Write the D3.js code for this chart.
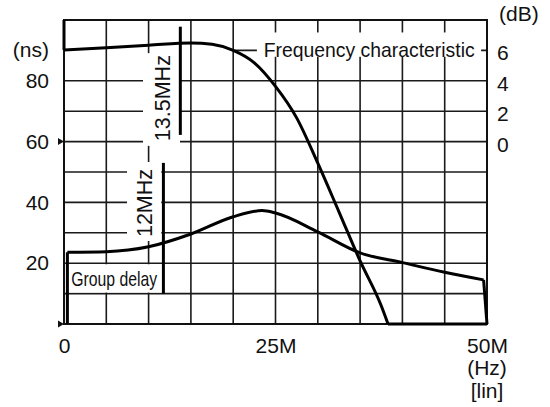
<!DOCTYPE html>
<html>
<head>
<meta charset="utf-8">
<script src="https://cdn.jsdelivr.net/npm/d3@7"></script>
<style>
  html, body { margin: 0; padding: 0; background: #fff; }
  svg { display: block; }
  text { font-family: "Liberation Sans", Arial, Helvetica, sans-serif; fill: #111; }
</style>
</head>
<body>
<svg id="chart" width="550" height="407"></svg>
<script>
// ---------- data ----------
const freqTicks = [0, 25, 50];
const freqTickLabels = ["0", "25M", "50M"];
const nsTicks = [20, 40, 60, 80];
const dbTicks = [0, 2, 4, 6];
const gridFreq = [0, 5, 10, 15, 20, 25, 30, 35, 40, 45, 50];
const gridNs = [0, 10, 20, 30, 40, 50, 60, 70, 80, 90, 100];

// Frequency characteristic (dB)
const fcMHz = [0, 5, 10, 15, 17.5, 20, 22.5, 25, 27.5, 30, 32.5, 35, 37.5, 38.3];
const fcDb  = [6.03, 6.18, 6.34, 6.49, 6.4, 6.0, 5.18, 3.63, 1.56, -1.42, -4.62, -7.85, -10.8, -12];
const fcStart = [[0, 8], [0, 6.03]];
const fcTail = [[38.3, -12], [50, -12]];

// Group delay (ns)
const gdMHz = [0.4, 5, 10, 15, 20, 23.4, 25, 30, 35, 40, 45, 49.6];
const gdNs  = [23.6, 23.8, 25.4, 29.6, 35.3, 37.3, 36.5, 30.3, 23.4, 20.2, 17.0, 14.5];
const gdStart = [[0.4, 0], [0.4, 23.6]];
const gdTail = [[49.6, 14.5], [50, 0]];

// marker bars (MHz position, ns range)
const markerLabels = ["13.5MHz", "12MHz"];
const markerBarMHz = [13.75, 11.75];
const markerBarNs = [[62.2, 97.8], [10, 53]];
const markerTextPos = [[11.65, 74.3], [9.45, 39.8]];

// ---------- setup ----------
const svg = d3.select("#chart");
const x = d3.scaleLinear([0, 50], [64, 487]);
const yNs = d3.scaleLinear([0, 100], [324, 20]);
const yDb = d3.scaleLinear([-12, 8], [324, 20]);
const FS = 21;

// ---------- grid ----------
const g = svg.append("g");
g.selectAll(".vg").data(gridFreq).join("line")
  .attr("x1", d => x(d)).attr("x2", d => x(d))
  .attr("y1", yNs(0)).attr("y2", yNs(100))
  .attr("stroke", "#1a1a1a").attr("stroke-width", 1.6);
g.selectAll(".hg").data(gridNs).join("line")
  .attr("x1", d => d === 90 ? x(20) : x(0)).attr("x2", x(50))
  .attr("y1", d => yNs(d)).attr("y2", d => yNs(d))
  .attr("stroke", "#1a1a1a").attr("stroke-width", 1.6);

// white label boxes (cover grid)
const boxes = [
  [9.34, 13.71, 58.6, 89.1],
  [7.45, 11.5, 27.3, 53.3],
  [0.35, 11.55, 10.35, 19.65],
  [22.8, 49.3, 87.9, 95.9]
];
svg.selectAll(".box").data(boxes).join("rect")
  .attr("x", d => x(d[0])).attr("width", d => x(d[1]) - x(d[0]))
  .attr("y", d => yNs(d[3])).attr("height", d => yNs(d[2]) - yNs(d[3]))
  .attr("fill", "#fff");

// frame
svg.append("rect")
  .attr("x", x(0)).attr("y", yNs(100))
  .attr("width", x(50) - x(0)).attr("height", yNs(0) - yNs(100))
  .attr("fill", "none").attr("stroke", "#111").attr("stroke-width", 2);

// arrow ticks on left axis
const arrowNs = [60, 0];
svg.selectAll(".arr").data(arrowNs).join("path")
  .attr("d", d => {
    const px = x(0), py = yNs(d);
    return `M${px - 6},${py - 3.5}L${px},${py}L${px - 6},${py + 3.5}Z`;
  })
  .attr("fill", "#111");

// ---------- curves ----------
const lineDb = d3.line().x(d => x(d[0])).y(d => yDb(d[1]));
const lineDbSmooth = d3.line().x(d => x(d[0])).y(d => yDb(d[1])).curve(d3.curveMonotoneX);
const lineNs = d3.line().x(d => x(d[0])).y(d => yNs(d[1]));
const lineNsSmooth = d3.line().x(d => x(d[0])).y(d => yNs(d[1])).curve(d3.curveMonotoneX);

const fcPts = fcMHz.map((m, i) => [m, fcDb[i]]);
const gdPts = gdMHz.map((m, i) => [m, gdNs[i]]);
const curveStyle = p => p.attr("fill", "none").attr("stroke", "#000")
  .attr("stroke-width", 3).attr("stroke-linejoin", "round").attr("stroke-linecap", "butt");

svg.append("path").attr("d", lineDb(fcStart)).call(curveStyle);
svg.append("path").attr("d", lineDbSmooth(fcPts)).call(curveStyle);
svg.append("path").attr("d", lineDb(fcTail)).call(curveStyle);
svg.append("path").attr("d", lineNs(gdStart)).call(curveStyle);
svg.append("path").attr("d", lineNsSmooth(gdPts)).call(curveStyle);
svg.append("path").attr("d", lineNs(gdTail)).call(curveStyle);

// marker bars
svg.selectAll(".bar").data(markerBarMHz).join("line")
  .attr("x1", d => x(d)).attr("x2", d => x(d))
  .attr("y1", (d, i) => yNs(markerBarNs[i][0])).attr("y2", (d, i) => yNs(markerBarNs[i][1]))
  .attr("stroke", "#000").attr("stroke-width", 3);

// marker labels (rotated)
svg.selectAll(".mlab").data(markerLabels).join("text")
  .attr("transform", (d, i) => `translate(${x(markerTextPos[i][0])},${yNs(markerTextPos[i][1])}) rotate(-90)`)
  .attr("text-anchor", "middle").attr("dy", "0.36em")
  .attr("font-size", 21.5).text(d => d);

// series labels
svg.append("text").attr("x", x(23.6)).attr("y", yNs(90) + 7)
  .attr("font-size", FS).attr("textLength", 211).attr("lengthAdjust", "spacingAndGlyphs")
  .text("Frequency characteristic");
svg.append("text").attr("x", x(0.85)).attr("y", yNs(10) - 8)
  .attr("font-size", FS).attr("textLength", 86).attr("lengthAdjust", "spacingAndGlyphs")
  .text("Group delay");

// ---------- axes ----------
const axL = svg.append("g").attr("transform", `translate(${x(0)},0)`)
  .call(d3.axisLeft(yNs).tickValues(nsTicks).tickSize(0).tickPadding(15));
const axR = svg.append("g").attr("transform", `translate(${x(50)},0)`)
  .call(d3.axisRight(yDb).tickValues(dbTicks).tickSize(0).tickPadding(10));
const axB = svg.append("g").attr("transform", `translate(0,${yNs(0)})`)
  .call(d3.axisBottom(x).tickValues(freqTicks).tickSize(0).tickPadding(14)
    .tickFormat((d, i) => freqTickLabels[i]));
[axL, axR, axB].forEach(a => {
  a.select(".domain").remove();
  a.selectAll("text").attr("font-size", FS).attr("font-family", null).attr("fill", "#111");
});
axR.selectAll("text").attr("dy", "0.45em");

// unit labels
svg.append("text").attr("x", 49).attr("y", 57).attr("text-anchor", "end")
  .attr("font-size", FS).text("(ns)");
svg.append("text").attr("x", 499).attr("y", 21)
  .attr("font-size", FS).text("(dB)");
svg.append("text").attr("x", x(50)).attr("y", 375).attr("text-anchor", "middle")
  .attr("font-size", FS).text("(Hz)");
svg.append("text").attr("x", x(50)).attr("y", 398).attr("text-anchor", "middle")
  .attr("font-size", FS).text("[lin]");
</script>
</body>
</html>
